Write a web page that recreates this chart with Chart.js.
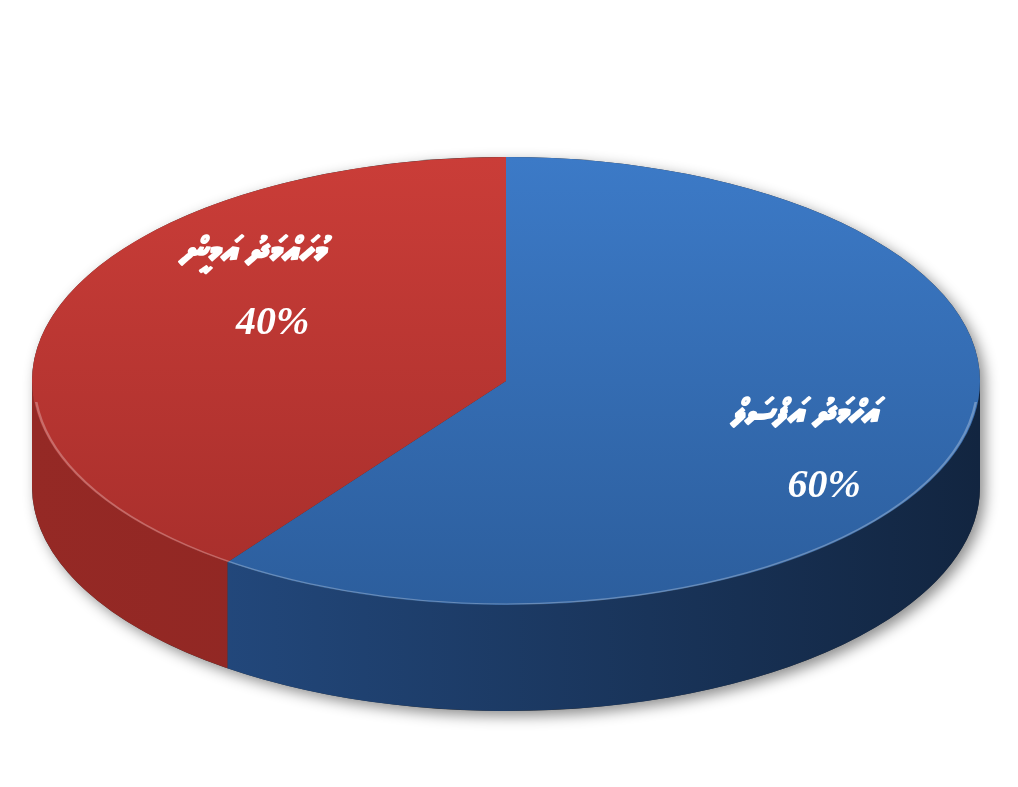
<!DOCTYPE html>
<html><head><meta charset="utf-8">
<script src="https://cdn.jsdelivr.net/npm/chart.js@4"></script>
<style>html,body{margin:0;padding:0;background:#fff;overflow:hidden}#wrap{width:1018px;height:787px;position:relative}</style>
</head><body><div id="wrap"><canvas id="c" width="1018" height="787"></canvas></div>
<script>
// ---- data ----
const categories = ['އަހްމަދު އަފްސަލް', 'މުހައްމަދު އަމީން'];
const shares = [60, 40];
const shareLabels = ['60%', '40%'];

// ---- styles ----
const topColors = [['#3c7ac7', '#2c5e9d'], ['#ca3d38', '#a62e2b']];
const sideColors = [['#26508a', '#122540'], ['#952925', '#86221f']];
const X_STRETCH = 474 / 224;
const DEPTH = 106;

function stretch(ctx, el) {
  ctx.translate(el.x, el.y);
  ctx.scale(X_STRETCH, 1);
  ctx.translate(-el.x, -el.y);
}
function props(el) {
  return el.getProps(['x', 'y', 'startAngle', 'endAngle', 'outerRadius'], true);
}

const pie3d = {
  id: 'pie3d',
  beforeDatasetsDraw(chart) {
    const ctx = chart.ctx;
    const els = chart.getDatasetMeta(0).data;
    ctx.save();
    if (!els.length) return;
    const c = props(els[0]);
    stretch(ctx, c);
    // drop shadow of the whole body
    ctx.save();
    ctx.shadowColor = 'rgba(0,0,0,0.45)';
    ctx.shadowBlur = 14;
    ctx.shadowOffsetX = 5;
    ctx.shadowOffsetY = 5;
    ctx.fillStyle = '#333';
    ctx.beginPath();
    ctx.arc(c.x, c.y, c.outerRadius, Math.PI, 0, false);
    ctx.lineTo(c.x + c.outerRadius, c.y + DEPTH);
    ctx.arc(c.x, c.y + DEPTH, c.outerRadius, 0, Math.PI, false);
    ctx.closePath();
    ctx.fill();
    ctx.restore();
    // sides
    els.forEach((e, i) => {
      const p = props(e);
      const r = p.outerRadius;
      const a0 = Math.max(p.startAngle, 0), a1 = Math.min(p.endAngle, Math.PI);
      if (a1 <= a0) return;
      const g = ctx.createLinearGradient(p.x - r, 0, p.x + r, 0);
      g.addColorStop(0, sideColors[i][0]);
      g.addColorStop(1, sideColors[i][1]);
      ctx.fillStyle = g;
      ctx.beginPath();
      ctx.arc(p.x, p.y, r, a0, a1, false);
      ctx.lineTo(p.x + r * Math.cos(a1), p.y + r * Math.sin(a1) + DEPTH);
      ctx.arc(p.x, p.y + DEPTH, r, a1, a0, true);
      ctx.closePath();
      ctx.fill();
    });
  },
  afterDatasetsDraw(chart) {
    const ctx = chart.ctx;
    const els = chart.getDatasetMeta(0).data;
    if (els.length) {
      const c = props(els[0]);
      ctx.strokeStyle = 'rgba(255,255,255,0.28)';
      ctx.lineWidth = 1.2;
      ctx.beginPath();
      ctx.arc(c.x, c.y, c.outerRadius - 1, 0.03 * Math.PI, 0.97 * Math.PI, false);
      ctx.stroke();
    }
    ctx.restore();
  },
  afterDraw(chart, args, opts) {
    const ctx = chart.ctx;
    const els = chart.getDatasetMeta(0).data;
    els.forEach((e, i) => {
      const p = props(e);
      const mid = (p.startAngle + p.endAngle) / 2 + opts.angleShift[i];
      const ax = p.x + X_STRETCH * p.outerRadius * opts.radius[i] * Math.cos(mid);
      const ay = p.y + p.outerRadius * opts.radius[i] * Math.sin(mid);
      ctx.save();
      ctx.fillStyle = '#ffffff';
      ctx.strokeStyle = '#ffffff';
      ctx.lineJoin = 'round';
      ctx.textAlign = 'center';
      ctx.textBaseline = 'middle';
      ctx.direction = 'rtl';
      ctx.font = 'italic bold 36px "Noto Sans Thaana", "DejaVu Sans", sans-serif';
      ctx.lineWidth = 1.6;
      ctx.strokeText(categories[i], ax - 10, ay - 34);
      ctx.fillText(categories[i], ax - 10, ay - 34);
      ctx.direction = 'ltr';
      ctx.font = 'italic bold 40px "Liberation Serif", "Times New Roman", serif';
      ctx.fillText(shareLabels[i], ax + 10, ay + 36);
      ctx.restore();
    });
  }
};

function topFill(context) {
  const i = context.dataIndex;
  const chart = context.chart;
  const a = chart.chartArea;
  if (!a) return topColors[i][0];
  const g = chart.ctx.createLinearGradient(0, a.top, 0, a.bottom);
  g.addColorStop(0, topColors[i][0]);
  g.addColorStop(1, topColors[i][1]);
  return g;
}

new Chart(document.getElementById('c'), {
  type: 'pie',
  data: {
    labels: categories,
    datasets: [{
      data: shares,
      backgroundColor: topFill,
      borderWidth: 0,
      clip: false
    }]
  },
  options: {
    responsive: false,
    animation: false,
    layout: { padding: { left: 0, right: 6, top: 157, bottom: 182 } },
    plugins: {
      legend: { display: false },
      tooltip: { enabled: false },
      pie3d: { radius: [0.72, 0.66], angleShift: [0.13, 0.365] }
    },
    events: []
  },
  plugins: [pie3d]
});
</script>
</body></html>
